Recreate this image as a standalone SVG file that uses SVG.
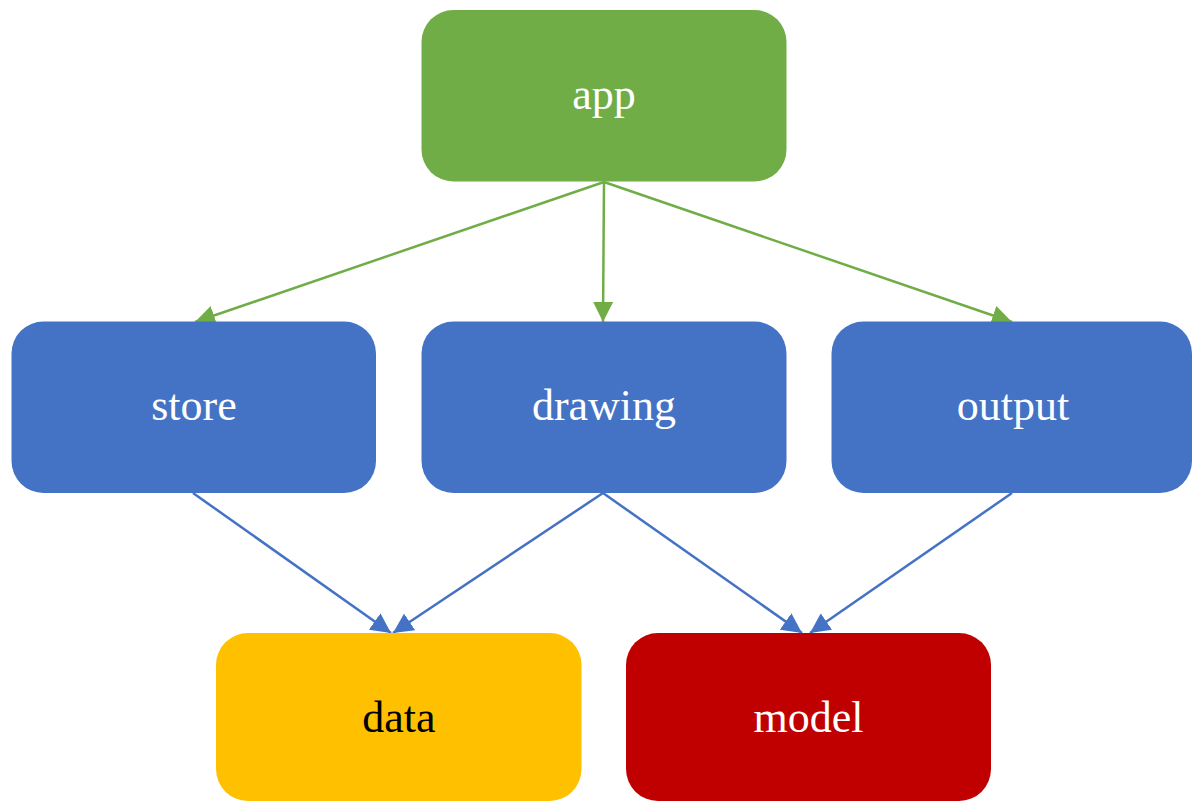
<svg xmlns="http://www.w3.org/2000/svg" width="1192" height="801" viewBox="0 0 1192 801">
<style>
.lbl{font-family:"Liberation Serif","Times New Roman",serif;font-size:44px;text-anchor:middle}
.w{fill:#FFFFFF}
.k{fill:#000000}
.g{stroke:#70AD47;stroke-width:2.5;fill:none}
.b{stroke:#4472C4;stroke-width:2.5;fill:none}
</style>
<defs>
<marker id="ag" markerUnits="userSpaceOnUse" markerWidth="22" markerHeight="20" refX="20" refY="10" orient="auto"><path d="M0,0 L20,10 L0,20 z" fill="#70AD47"/></marker>
<marker id="ab" markerUnits="userSpaceOnUse" markerWidth="22" markerHeight="20" refX="20" refY="10" orient="auto"><path d="M0,0 L20,10 L0,20 z" fill="#4472C4"/></marker>
</defs>
<rect width="1192" height="801" fill="#FFFFFF"/>
<g id="connectors">
<line class="g" x1="604" y1="182" x2="195" y2="322" marker-end="url(#ag)"/>
<line class="g" x1="604" y1="182" x2="603" y2="322" marker-end="url(#ag)"/>
<line class="g" x1="604" y1="182" x2="1012" y2="322" marker-end="url(#ag)"/>
<line class="b" x1="193" y1="493" x2="391" y2="633" marker-end="url(#ab)"/>
<line class="b" x1="603" y1="493" x2="393" y2="633" marker-end="url(#ab)"/>
<line class="b" x1="603" y1="493" x2="802" y2="633" marker-end="url(#ab)"/>
<line class="b" x1="1012" y1="493" x2="810" y2="633" marker-end="url(#ab)"/>
</g>
<g id="app"><rect x="421.5" y="10" width="365" height="171.5" rx="32" fill="#70AD47"/><text class="lbl w" x="604" y="109">app</text></g>
<g id="store"><rect x="11.5" y="321.5" width="364.5" height="171.5" rx="32" fill="#4472C4"/><text class="lbl w" x="194" y="420">store</text></g>
<g id="drawing"><rect x="421.5" y="321.5" width="365" height="171.5" rx="32" fill="#4472C4"/><text class="lbl w" x="604" y="420">drawing</text></g>
<g id="output"><rect x="831.5" y="321.5" width="360.5" height="171.5" rx="32" fill="#4472C4"/><text class="lbl w" x="1013" y="420">output</text></g>
<g id="data"><rect x="216" y="633" width="365.5" height="168" rx="32" fill="#FFC000"/><text class="lbl k" x="399" y="732">data</text></g>
<g id="model"><rect x="626" y="633" width="365" height="168" rx="32" fill="#C00000"/><text class="lbl w" x="808.5" y="732">model</text></g>
</svg>
